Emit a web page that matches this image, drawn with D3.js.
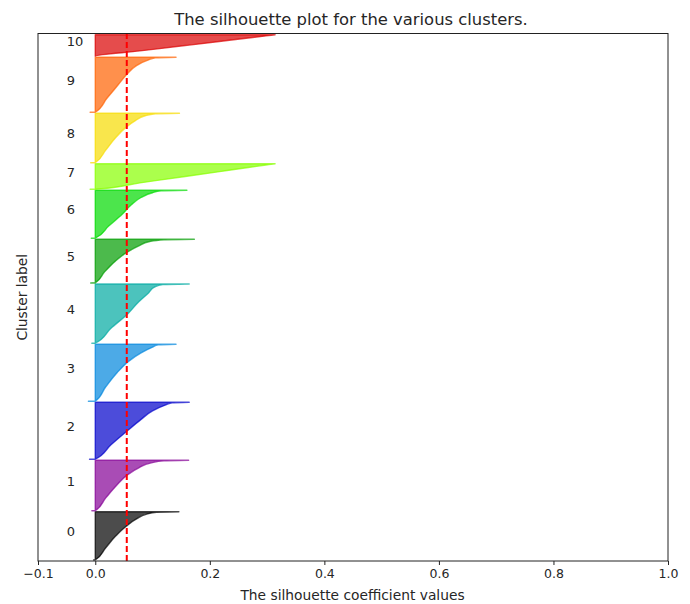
<!DOCTYPE html>
<html>
<head>
<meta charset="utf-8">
<script src="https://cdn.jsdelivr.net/npm/d3@7"></script>
<style>
  html, body { margin: 0; padding: 0; background: #fff; }
  text { font-family: "DejaVu Sans", sans-serif; fill: #262626; }
</style>
</head>
<body>
<svg id="chart" width="690" height="604"></svg>
<script>
// ---- data ----
const clusterLabels = [0, 1, 2, 3, 4, 5, 6, 7, 8, 9, 10];
const clusterSizes = [483, 504, 570, 570, 593, 437, 480, 256, 494, 550, 215];
const clusterGap = 10;
// fraction of each cluster (bottom -> top) at which a silhouette value was read
const fractions = [0, 0.003, 0.25, 0.5, 0.7, 0.85, 0.95, 0.99, 1];
const silhouette0  = [-0.003, 0, 0.018, 0.036, 0.054, 0.072, 0.090, 0.107, 0.146];
const silhouette1  = [-0.006, 0, 0.018, 0.037, 0.055, 0.076, 0.098, 0.120, 0.163];
const silhouette2  = [-0.010, 0, 0.027, 0.056, 0.080, 0.100, 0.122, 0.134, 0.164];
const silhouette3  = [-0.012, 0, 0.018, 0.038, 0.058, 0.080, 0.100, 0.110, 0.141];
const silhouette4  = [-0.006, 0, 0.027, 0.057, 0.076, 0.093, 0.104, 0.118, 0.164];
const silhouette5  = [-0.008, 0, 0.016, 0.035, 0.055, 0.076, 0.095, 0.120, 0.173];
const silhouette6  = [-0.007, 0, 0.023, 0.047, 0.063, 0.080, 0.100, 0.115, 0.160];
const silhouette7  = [-0.009, 0, 0.078, 0.157, 0.220, 0.267, 0.298, 0.311, 0.314];
const silhouette8  = [-0.008, 0, 0.018, 0.035, 0.052, 0.070, 0.087, 0.105, 0.147];
const silhouette9  = [-0.009, 0, 0.020, 0.040, 0.056, 0.072, 0.092, 0.105, 0.141];
const silhouette10 = [0, 0, 0.078, 0.157, 0.220, 0.267, 0.298, 0.311, 0.314];
const silhouetteSeries = [silhouette0, silhouette1, silhouette2, silhouette3, silhouette4,
  silhouette5, silhouette6, silhouette7, silhouette8, silhouette9, silhouette10];
const clusterColors = ["#000000", "#850096", "#0000ca", "#0086dd", "#00aaa1", "#009c00",
  "#00da00", "#88ff00", "#f7db00", "#ff6100", "#da0000"];
const averageScore = 0.055;
const xTicks = [-0.1, 0, 0.2, 0.4, 0.6, 0.8, 1.0];
const xDomain = [-0.1, 1.0];
const yDomain = [0, 5275];
const titleText = "The silhouette plot for the various clusters.";
const xLabelText = "The silhouette coefficient values";
const yLabelText = "Cluster label";

// ---- layout ----
const svg = d3.select("#chart");
const L = 38, R = 668, T = 33.5, B = 561;
const x = d3.scaleLinear().domain(xDomain).range([L, R]);
const y = d3.scaleLinear().domain(yDomain).range([B, T]);

svg.append("defs").append("clipPath").attr("id", "plotclip")
  .append("rect").attr("x", L).attr("y", T).attr("width", R - L).attr("height", B - T);

const plot = svg.append("g").attr("clip-path", "url(#plotclip)");

const area = d3.area()
  .curve(d3.curveMonotoneY)
  .y(d => y(d.s))
  .x0(x(0))
  .x1(d => x(d.v));

let yLower = clusterGap;
clusterLabels.forEach((lab, i) => {
  const size = clusterSizes[i];
  const pts = fractions.map((f, k) => ({ s: yLower + f * size, v: silhouetteSeries[i][k] }));
  plot.append("path")
    .attr("d", area(pts))
    .attr("fill", clusterColors[i]).attr("fill-opacity", 0.7)
    .attr("stroke", clusterColors[i]).attr("stroke-opacity", 0.7)
    .attr("stroke-width", 1.4).attr("stroke-linejoin", "round");
  svg.append("text")
    .attr("x", x(-0.05)).attr("y", y(yLower + 0.5 * size))
    .attr("font-size", 13)
    .text(String(lab));
  yLower = yLower + size + clusterGap;
});

// average line
plot.append("line")
  .attr("x1", x(averageScore)).attr("x2", x(averageScore))
  .attr("y1", y(yDomain[0])).attr("y2", y(yDomain[1]))
  .attr("stroke", "red").attr("stroke-width", 2)
  .attr("stroke-dasharray", "6,3");

// x axis
const xAxis = d3.axisBottom(x).tickValues(xTicks).tickSize(4).tickPadding(4)
  .tickFormat(d => d3.format(".1f")(d).replace("-", "\u2212"));
const gx = svg.append("g").attr("transform", `translate(0,${B})`).call(xAxis);
gx.select(".domain").remove();
gx.selectAll(".tick line").attr("stroke", "#222").attr("stroke-width", 1);
gx.selectAll(".tick text").attr("font-size", 12.5).attr("fill", "#262626")
  .attr("font-family", "DejaVu Sans, sans-serif");

// frame
svg.append("rect").attr("x", L).attr("y", T).attr("width", R - L).attr("height", B - T)
  .attr("fill", "none").attr("stroke", "#222").attr("stroke-width", 1);

// titles
svg.append("text").attr("x", 351).attr("y", 25).attr("text-anchor", "middle")
  .attr("font-size", 16.4).text(titleText);
svg.append("text").attr("x", 352.5).attr("y", 600).attr("text-anchor", "middle")
  .attr("font-size", 13.8).text(xLabelText);
svg.append("text").attr("transform", `translate(27,${(T + B) / 2}) rotate(-90)`)
  .attr("text-anchor", "middle").attr("font-size", 13.8).text(yLabelText);
</script>
</body>
</html>
